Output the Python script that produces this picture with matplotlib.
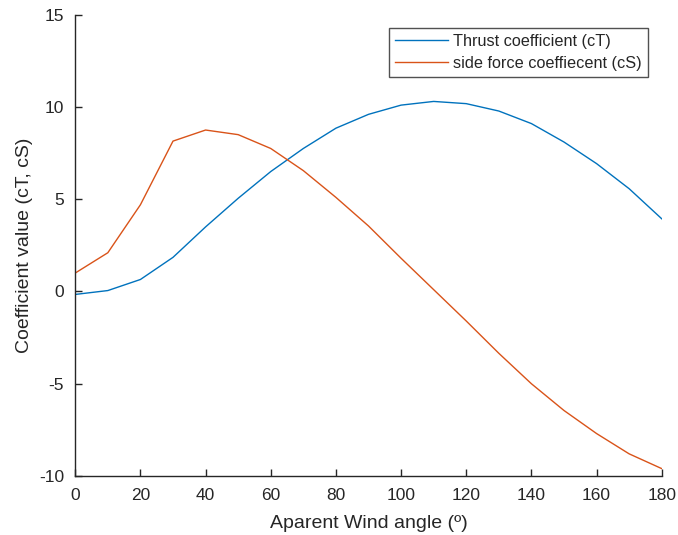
import matplotlib
matplotlib.use("Agg")
import matplotlib.pyplot as plt

angle = [0, 10, 20, 30, 40, 50, 60, 70, 80, 90, 100, 110, 120, 130, 140, 150, 160, 170, 180]
thrust = [-0.16, 0.05, 0.65, 1.85, 3.5, 5.05, 6.5, 7.75, 8.85, 9.6, 10.1, 10.3, 10.18, 9.78, 9.1, 8.1, 6.93, 5.57, 3.94]
side = [1.0, 2.1, 4.7, 8.15, 8.75, 8.5, 7.75, 6.55, 5.1, 3.55, 1.8, 0.1, -1.6, -3.35, -5.0, -6.45, -7.7, -8.8, -9.6]
labels = ["Thrust coefficient (cT)", "side force coeffiecent (cS)"]
xticks = [0, 20, 40, 60, 80, 100, 120, 140, 160, 180]
yticks = [-10, -5, 0, 5, 10, 15]

plt.rcParams['font.family'] = ['Liberation Sans', 'DejaVu Sans']
plt.rcParams['axes.unicode_minus'] = False
axc = '#262626'

fig = plt.figure(figsize=(6.78, 5.35), dpi=100)
ax = fig.add_axes([0.111, 0.1103, 0.865, 0.8622])
ax.plot(angle, thrust, color='#0072BD', lw=1.0, label=labels[0])
ax.plot(angle, side, color='#D95319', lw=1.0, label=labels[1])
ax.set_xlim(0, 180)
ax.set_ylim(-10, 15)
ax.set_xticks(xticks)
ax.set_yticks(yticks)
ax.spines['top'].set_visible(False)
ax.spines['right'].set_visible(False)
for s in ['left', 'bottom']:
    ax.spines[s].set_color(axc)
    ax.spines[s].set_linewidth(1.0)
ax.tick_params(direction='in', length=5, width=1.0, colors=axc, labelsize=12.5)
ax.tick_params(axis='x', pad=9)
ax.tick_params(axis='y', pad=8)
ax.set_xlabel('Aparent Wind angle (º)', fontsize=14, color=axc, labelpad=8)
ax.set_ylabel('Coefficient value (cT, cS)', fontsize=14, color=axc, labelpad=4)
leg = ax.legend(loc='upper right', bbox_to_anchor=(648/678, 1-28/535), bbox_transform=fig.transFigure,
                fontsize=11.7, frameon=True, fancybox=False, borderaxespad=0, handlelength=3.3,
                handletextpad=0.3, borderpad=0.37, labelspacing=0.4)
leg.get_frame().set_edgecolor(axc)
leg.get_frame().set_linewidth(1.0)
for t in leg.get_texts():
    t.set_color(axc)
fig.savefig('out.png', dpi=100)
